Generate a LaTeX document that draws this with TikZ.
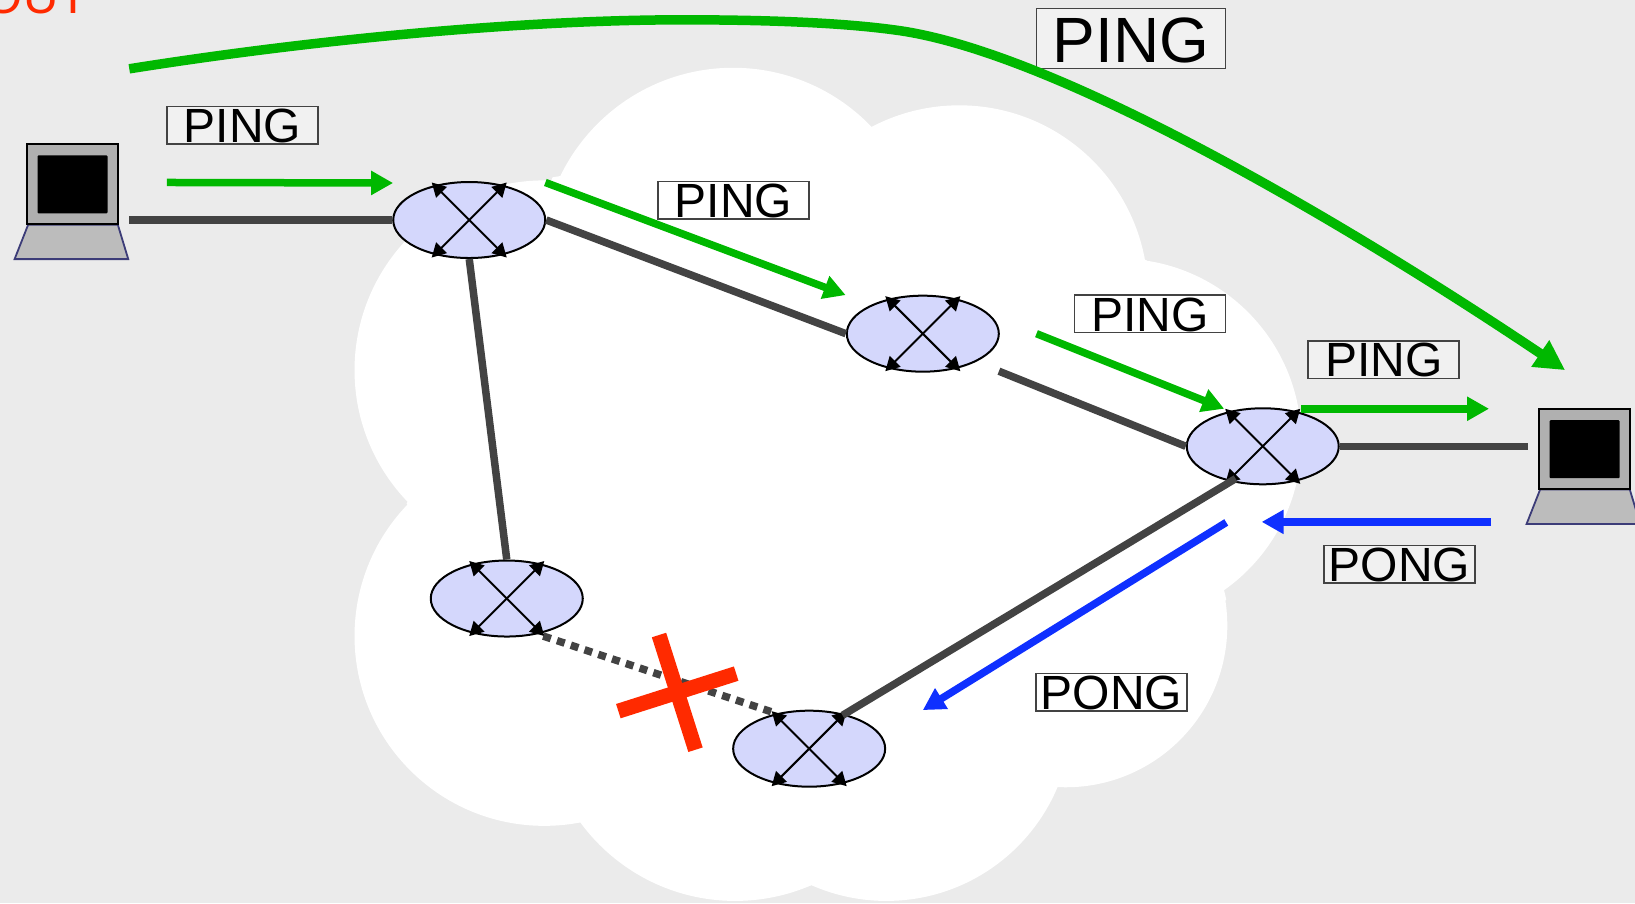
\documentclass[tikz,border=0pt]{standalone}
\usepackage{fontspec}
\setmainfont{Liberation Sans}
\usetikzlibrary{arrows.meta,shapes.geometric}
\definecolor{bggrey}{HTML}{EBEBEB}
\definecolor{wire}{HTML}{434343}
\definecolor{pgreen}{HTML}{00B800}
\definecolor{pblue}{HTML}{0F30FF}
\definecolor{xred}{HTML}{FF2A00}
\definecolor{routerfill}{HTML}{D4D7FC}
\tikzset{
  x=1.0427pt,y=-1.0427pt,
  link/.style={draw=wire,line width=7.5pt},
  flow/.style={line width=7.5pt,-{Triangle[length=22pt,width=23pt]}},
  greenflow/.style={flow,draw=pgreen},
  blueflow/.style={flow,draw=pblue},
  tag/.style={draw=wire,line width=1.5pt,fill=white,fill opacity=.3,text opacity=1,inner sep=0pt,font=\fontsize{48}{48}\selectfont,minimum width=151pt,minimum height=37.5pt,text height=36pt,text depth=1.5pt},
  bigtag/.style={tag,font=\fontsize{64}{64}\selectfont,minimum width=189pt,minimum height=60pt,text height=54pt,text depth=6pt},
  routernode/.style={ellipse,draw=black,line width=2pt,fill=routerfill,minimum width=152pt,minimum height=76pt,inner sep=0pt},
  rarrow/.style={line width=2pt,{Triangle[length=14pt,width=15pt]}-{Triangle[length=14pt,width=15pt]},black},
}
\newcommand{\cloudblob}[3]{\fill[white] (#1,#2) circle[radius=#3*1.0427pt];}
\newcommand{\routerat}[3]{%
  \node[routernode] (#1) at (#2,#3) {};
  \draw[rarrow] (#2-36,#3-36) -- (#2+36,#3+36);
  \draw[rarrow] (#2-36,#3+36) -- (#2+36,#3-36);
}
\newcommand{\laptopat}[3]{%
  \draw[draw={rgb,255:red,60;green,60;blue,120},line width=1.8pt,fill={rgb,255:red,188;green,188;blue,188}] (#2-42,#3+78) -- (#2+44,#3+78) -- (#2+54,#3+111) -- (#2-55,#3+111) -- cycle;
  \node[draw=black,line width=2pt,fill={rgb,255:red,176;green,176;blue,176},minimum width=91pt,minimum height=80pt,inner sep=0pt,anchor=north west] (#1) at (#2-44,#3) {};
  \node[fill=black,rounded corners=1pt,minimum width=70pt,minimum height=58pt,inner sep=0pt] at (#1.center) {};
}
\begin{document}
\begin{tikzpicture}
\useasboundingbox (0,0) rectangle (1568,866);
\fill[bggrey] (0,0) rectangle (1568,866);
% cloud
\cloudblob{703}{249}{184}
\cloudblob{920}{282}{181}
\cloudblob{1073}{423}{175}
\cloudblob{1022}{600}{155}
\cloudblob{850}{686}{178}
\cloudblob{705}{680}{184}
\cloudblob{522}{610}{182}
\cloudblob{522}{355}{182}
\fill[white] (530,170) -- (836,122) -- (1100,250) -- (1176,575) -- (1015,750) -- (775,850) -- (555,785) -- (390,483) -- cycle;
% clipped red text
\begin{scope}
\clip (0,0) rectangle (1568,866);
\node[anchor=base east,text=xred,inner sep=0pt,font=\fontsize{49}{49}\selectfont] (timeout) at (85,12.5) {OUT};
\end{scope}
% links
\coordinate (ha) at (124,211);
\coordinate (hb) at (1465,428);
\coordinate (r2gap) at (958,356);
\coordinate (dotA) at (521,610);
\coordinate (dotB) at (741,683);
\coordinate (r3sw) at (1185,459);
\coordinate (r5ne) at (808,686);
% routers
\routerat{r1}{450}{211}
\routerat{r2}{885}{320}
\routerat{r3}{1211}{428}
\routerat{r4}{486}{574}
\routerat{r5}{776}{718}
% laptops
\laptopat{hostA}{69}{137.5}
\laptopat{hostB}{1519}{391.5}
\draw[link] (ha) -- (r1.west);
\draw[link] (r1.east) -- (r2.west);
\draw[link] (r2gap) -- (r3.west);
\draw[link] (r3.east) -- (hb);
\draw[link] (r1.south) -- (r4.north);
\draw[link] (r3sw) -- (r5ne);
\draw[wire,line width=7.5pt,dash pattern=on 8pt off 6.5pt] (dotA) -- (dotB);
% flows
\coordinate (f1a) at (160,175); \coordinate (f1b) at (377,175.5);
\coordinate (f2a) at (523,175); \coordinate (f2b) at (811,283);
\coordinate (f3a) at (994,320); \coordinate (f3b) at (1174,392);
\coordinate (f4a) at (1248,392); \coordinate (f4b) at (1428,392);
\coordinate (f5a) at (1430,500.5); \coordinate (f5b) at (1210,500.5);
\coordinate (f6a) at (1176,501); \coordinate (f6b) at (885,681);
\coordinate (topa) at (124,66); \coordinate (topb) at (1501,355);
\draw[greenflow] (f1a) -- (f1b);
\draw[greenflow] (f2a) -- (f2b);
\draw[greenflow] (f3a) -- (f3b);
\draw[greenflow] (f4a) -- (f4b);
\draw[blueflow] (f5a) -- (f5b);
\draw[blueflow] (f6a) -- (f6b);
% red cross
\coordinate (xa) at (632,609); \coordinate (xb) at (667,719);
\coordinate (xc) at (593,682); \coordinate (xd) at (706,646);
\draw[xred,line width=15pt] (xa) -- (xb);
\draw[xred,line width=15pt] (xc) -- (xd);
% labels
\node[tag] (l1) at (232.5,120) {PING};
\node[tag] (l2) at (703.5,192) {PING};
\node[tag] (l3) at (1103,301) {PING};
\node[tag] (l4) at (1327,345) {PING};
\node[tag] (l5) at (1342,541) {PONG};
\node[tag] (l6) at (1066,664) {PONG};
\node[bigtag] (l7) at ([xshift=0pt]1084.5,37) {PING};
% long arc
\draw[pgreen,line width=9.5pt,-{Triangle[length=30pt,width=30pt]}] (topa) .. controls (300,38) and (500,19) .. (655,19) .. controls (740,19) and (810,22) .. (860,29) .. controls (1015,50) and (1300,220) .. (topb);
\end{tikzpicture}
\end{document}
